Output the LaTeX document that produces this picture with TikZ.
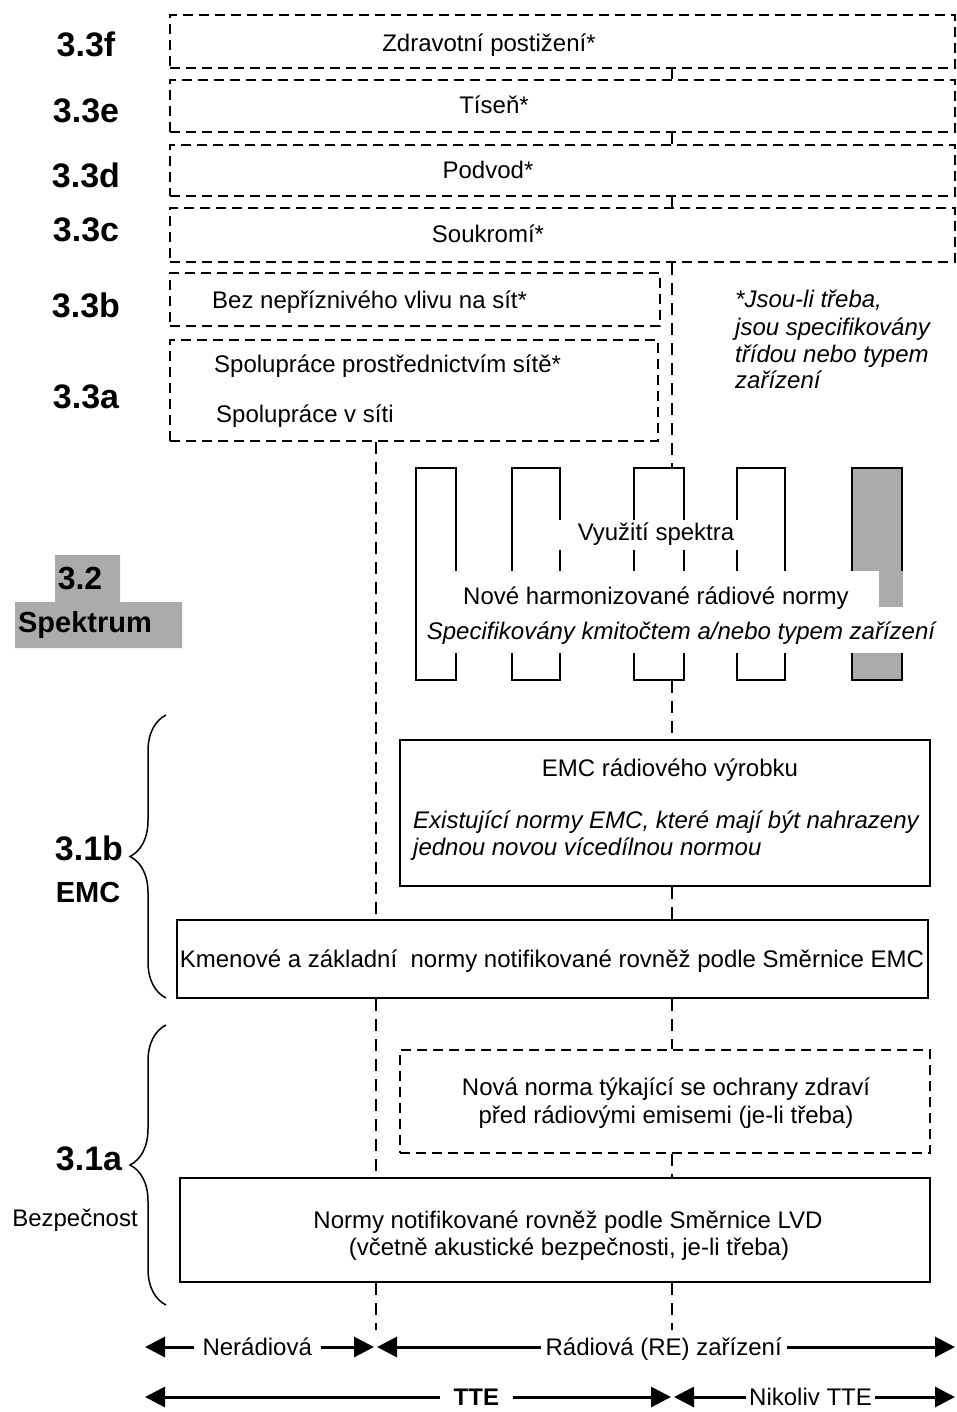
\documentclass[tikz,border=0pt]{standalone}
\usepackage{fontspec}
\setmainfont{Liberation Sans}
\usetikzlibrary{arrows.meta,decorations.pathreplacing}
\begin{document}
\begin{tikzpicture}[x=1pt,y=-1pt,
  box/.style={draw,line width=2.6pt,inner sep=0pt},
  dbox/.style={draw,line width=2.8pt,dash pattern=on 10pt off 6pt,inner sep=0pt},
  dline/.style={line width=2.5pt,dash pattern=on 12pt off 8pt},
  txt/.style={font=\fontsize{24}{28}\selectfont,inner sep=0pt,text height=17pt,text depth=0pt},
  itx/.style={font=\fontsize{24}{28}\selectfont\itshape,inner sep=0pt,text height=17pt,text depth=0pt},
  lab/.style={font=\fontsize{34}{38}\selectfont\bfseries,inner sep=0pt,text height=24pt,text depth=0pt},
  slab/.style={font=\fontsize{29}{32}\selectfont\bfseries,inner sep=0pt,text height=21pt,text depth=0pt},
  gapbox/.style={fill=white,inner sep=0pt},
  tooth/.style={draw,line width=2.6pt,inner sep=0pt,minimum height=212pt},
  shade/.style={fill=black!33},
  brc/.style={line width=1.5pt,decorate,decoration={brace,amplitude=36pt}},
  arr/.style={line width=3pt,{Triangle[length=20pt,width=20pt]}-{Triangle[length=20pt,width=20pt]}},
  arrlab/.style={fill=white,inner ysep=2pt,text height=17pt,text depth=0pt}
]
\useasboundingbox (0,0) rectangle (957,1412);
\coordinate (vR) at (672,0);
\coordinate (vL) at (376,0);
\coordinate (endR) at (672,1330);
\coordinate (endL) at (376,1330);

% ---- 3.3 boxes
\node[dbox,minimum width=785pt,minimum height=53pt] (f) at (562.5,41.5) {};
\node[dbox,minimum width=785pt,minimum height=52pt] (e) at (562.5,106) {};
\node[dbox,minimum width=785pt,minimum height=51pt] (d) at (562.5,170.5) {};
\node[dbox,minimum width=785pt,minimum height=54pt] (c) at (562.5,235) {};
\node[dbox,minimum width=490pt,minimum height=53pt] (b) at (415,299.5) {};
\node[dbox,minimum width=488pt,minimum height=101pt] (a) at (414,390.5) {};

\node[txt] (tf) at (489,43) {Zdravotní postižení*};
\node[txt] (te) at (494,105) {Tíseň*};
\node[txt] (td) at (488,170) {Podvod*};
\node[txt] (tc) at (488,234) {Soukromí*};
\node[txt,anchor=west] (tb) at (212,300) {Bez nepříznivého vlivu na sít*};
\node[txt,anchor=west] (ta1) at (214,364) {Spolupráce prostřednictvím sítě*};
\node[txt,anchor=west] (ta2) at (216,414) {Spolupráce v síti};

\node[itx,anchor=west] (fn1) at (735,299) {*Jsou-li třeba,};
\node[itx,anchor=west] (fn2) at (735,327) {jsou specifikovány};
\node[itx,anchor=west] (fn3) at (735,354) {třídou nebo typem};
\node[itx,anchor=west] (fn4) at (735,380) {zařízení};

% ---- labels
\node[lab] (l3f) at (86,45) {3.3f};
\node[lab] (l3e) at (86,111) {3.3e};
\node[lab] (l3d) at (86,176) {3.3d};
\node[lab] (l3c) at (86,230) {3.3c};
\node[lab] (l3b) at (86,305) {3.3b};
\node[lab] (l3a) at (86,396) {3.3a};
\fill[shade] (55,555) -- (120,555) -- (120,602) -- (182,602) -- (182,648) -- (15,648) -- (15,602) -- (55,602) -- cycle;
\node[lab,font=\fontsize{32}{36}\selectfont\bfseries] (l32) at (80,577) {3.2};
\node[slab] (lspek) at (85,622) {Spektrum};
\node[lab] (l31b) at (89,848) {3.1b};
\node[slab] (lemc) at (88,892) {EMC};
\node[lab] (l31a) at (89,1158) {3.1a};
\node[txt] (lbez) at (75,1218) {Bezpečnost};

% ---- spectrum comb
\node[tooth,minimum width=40pt] (t1) at (436,574) {};
\node[tooth,minimum width=48pt] (t2) at (536,574) {};
\node[tooth,minimum width=50pt] (t3) at (659,574) {};
\node[tooth,minimum width=48pt] (t4) at (761,574) {};
\node[tooth,minimum width=50pt,shade] (t5) at (877,574) {};
\node[gapbox,minimum width=193pt,minimum height=30pt] (g0) at (648.5,535) {};
\node[gapbox,minimum width=480pt,minimum height=36pt] (g1) at (690,589) {};
\node[gapbox,minimum width=525pt,minimum height=46pt] (g2) at (682.5,630) {};
\fill[shade] (879,571) rectangle (903.3,607);
\node[txt] (tspek) at (656,532) {Využití spektra};
\node[txt] (tharm) at (656,596) {Nové harmonizované rádiové normy};
\node[itx] (tspec) at (681,631) {Specifikovány kmitočtem a/nebo typem zařízení};

% ---- EMC
\node[box,minimum width=530pt,minimum height=146pt] (emc) at (665,813) {};
\node[txt] (temc) at (670,768) {EMC rádiového výrobku};
\node[itx,anchor=west] (temc1) at (413,820) {Existující normy EMC, které mají být nahrazeny};
\node[itx,anchor=west] (temc2) at (413,847) {jednou novou vícedílnou normou};
\node[box,minimum width=751pt,minimum height=78pt] (kmen) at (552.5,959) {};
\node[txt] (tkmen) at (552,959) {Kmenové a základní\ \ normy notifikované rovněž podle Směrnice EMC};

% ---- safety
\node[dbox,minimum width=530pt,minimum height=103pt] (health) at (665,1101.5) {};
\node[txt] (th1) at (666,1087) {Nová norma týkající se ochrany zdraví};
\node[txt] (th2) at (666,1115) {před rádiovými emisemi (je-li třeba)};
\node[box,minimum width=750pt,minimum height=104pt] (lvd) at (555,1230) {};
\node[txt] (tl1) at (568,1220) {Normy notifikované rovněž podle Směrnice LVD};
\node[txt] (tl2) at (569,1247) {(včetně akustické bezpečnosti, je-li třeba)};

% ---- vertical dashed connectors
\draw[dline] (f.south -| vR) -- (e.north -| vR);
\draw[dline] (e.south -| vR) -- (d.north -| vR);
\draw[dline] (d.south -| vR) -- (c.north -| vR);
\draw[dline] (c.south -| vR) -- (t3.north -| vR);
\draw[dline] (t3.south -| vR) -- (emc.north -| vR);
\draw[dline] (emc.south -| vR) -- (kmen.north -| vR);
\draw[dline] (kmen.south -| vR) -- (health.north -| vR);
\draw[dline] (health.south -| vR) -- (lvd.north -| vR);
\draw[dline] (lvd.south -| vR) -- (endR);
\draw[dline] (a.south -| vL) -- (kmen.north -| vL);
\draw[dline] (kmen.south -| vL) -- (lvd.north -| vL);
\draw[dline] (lvd.south -| vL) -- (endL);

% ---- braces
\coordinate (b1s) at (166,998);
\coordinate (b1e) at (166,715);
\coordinate (b2s) at (166,1305);
\coordinate (b2e) at (166,1025);
\draw[brc] (b1s) -- (b1e);
\draw[brc] (b2s) -- (b2e);

% ---- bottom arrows
\coordinate (r1a) at (145,1347);
\coordinate (r1b) at (374,1347);
\coordinate (r1c) at (377,1347);
\coordinate (r1d) at (955,1347);
\coordinate (r2a) at (145,1397);
\coordinate (r2b) at (671,1397);
\coordinate (r2c) at (674,1397);
\coordinate (r2d) at (955,1397);
\draw[arr] (r1a) -- (r1b) node[arrlab,pos=0.49,inner xsep=9pt,font=\fontsize{24}{28}\selectfont] (nner) {Nerádiová};
\draw[arr] (r1c) -- (r1d) node[arrlab,pos=0.496,inner xsep=5pt,font=\fontsize{24}{28}\selectfont] (nrad) {Rádiová (RE) zařízení};
\draw[arr] (r2a) -- (r2b) node[arrlab,pos=0.63,inner xsep=14pt,font=\fontsize{24}{28}\selectfont\bfseries] (ntte) {TTE};
\draw[arr] (r2c) -- (r2d) node[arrlab,pos=0.486,inner xsep=3pt,font=\fontsize{24}{28}\selectfont] (nnik) {Nikoliv TTE};
\end{tikzpicture}
\end{document}
